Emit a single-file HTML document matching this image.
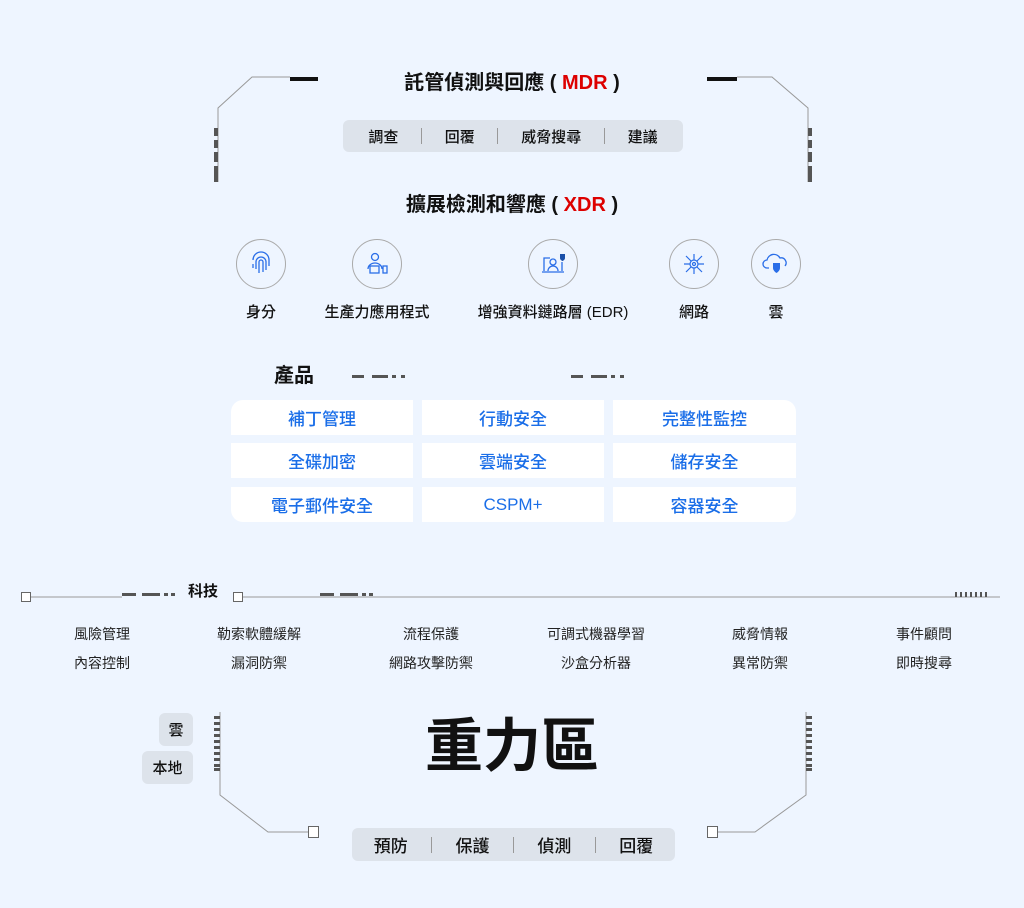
<!DOCTYPE html>
<html><head><meta charset="utf-8">
<style>
*{margin:0;padding:0;box-sizing:border-box}
body{width:1024px;height:908px;background:#eef5ff;font-family:"Liberation Sans","Noto Sans CJK TC",sans-serif;position:relative;overflow:hidden;color:#111}
.a{position:absolute}
.c{position:absolute;text-align:center;white-space:nowrap}
.bar{position:absolute;background:#dde3eb;border-radius:6px;display:flex;align-items:center;justify-content:space-around;font-size:15px;font-weight:500}
.sep{width:1px;height:16px;background:#999}
.cell{position:absolute;background:#fff;color:#1a6ee8;font-size:17px;font-weight:500;display:flex;align-items:center;justify-content:center;height:35px;width:182px}
.ic{position:absolute;width:50px;height:50px;border:1.5px solid #aaa;border-radius:50%;display:flex;align-items:center;justify-content:center}
.t{position:absolute;font-size:14px;width:140px;text-align:center;color:#222}
.lb{font-weight:500}
</style></head><body>
<svg class="a" style="left:0;top:0" width="1024" height="908">
<g stroke="#999" fill="none" stroke-width="1">
<polyline points="290,77 252,77 218,108 218,182"/>
<polyline points="737,77 772,77 808,108 808,182"/>
<polyline points="220,712 220,795 268,832 308,832"/>
<polyline points="717,832 755,832 806,795 806,712"/>
<line x1="31" y1="597" x2="122" y2="597"/>
<line x1="242" y1="597" x2="1000" y2="597"/>
</g>
<rect x="290" y="77" width="28" height="4" fill="#111"/>
<rect x="707" y="77" width="30" height="4" fill="#111"/>
<g fill="#555">
<rect x="214" y="128" width="4" height="8"/><rect x="214" y="140" width="4" height="8"/><rect x="214" y="152" width="4" height="10"/><rect x="214" y="166" width="4" height="16"/>
<rect x="808" y="128" width="4" height="8"/><rect x="808" y="140" width="4" height="8"/><rect x="808" y="152" width="4" height="10"/><rect x="808" y="166" width="4" height="16"/>
<rect x="214" y="716" width="6" height="3"/><rect x="214" y="722" width="6" height="3"/><rect x="214" y="728" width="6" height="3"/><rect x="214" y="734" width="6" height="3"/><rect x="214" y="740" width="6" height="3"/><rect x="214" y="746" width="6" height="3"/><rect x="214" y="752" width="6" height="3"/><rect x="214" y="758" width="6" height="3"/><rect x="214" y="764" width="6" height="3"/><rect x="214" y="768" width="6" height="3"/>
<rect x="806" y="716" width="6" height="3"/><rect x="806" y="722" width="6" height="3"/><rect x="806" y="728" width="6" height="3"/><rect x="806" y="734" width="6" height="3"/><rect x="806" y="740" width="6" height="3"/><rect x="806" y="746" width="6" height="3"/><rect x="806" y="752" width="6" height="3"/><rect x="806" y="758" width="6" height="3"/><rect x="806" y="764" width="6" height="3"/><rect x="806" y="768" width="6" height="3"/>
<rect x="352" y="375" width="12" height="3"/><rect x="372" y="375" width="16" height="3"/><rect x="392" y="375" width="4" height="3"/><rect x="401" y="375" width="4" height="3"/>
<rect x="571" y="375" width="12" height="3"/><rect x="591" y="375" width="16" height="3"/><rect x="611" y="375" width="4" height="3"/><rect x="620" y="375" width="4" height="3"/>
<rect x="122" y="593" width="14" height="3"/><rect x="142" y="593" width="18" height="3"/><rect x="164" y="593" width="4" height="3"/><rect x="171" y="593" width="4" height="3"/>
<rect x="320" y="593" width="14" height="3"/><rect x="340" y="593" width="18" height="3"/><rect x="362" y="593" width="4" height="3"/><rect x="369" y="593" width="4" height="3"/>
<rect x="955" y="592" width="2" height="5"/><rect x="960" y="592" width="2" height="5"/><rect x="965" y="592" width="2" height="5"/><rect x="970" y="592" width="2" height="5"/><rect x="975" y="592" width="2" height="5"/><rect x="980" y="592" width="2" height="5"/><rect x="985" y="592" width="2" height="5"/>
</g>
<g fill="#fff" stroke="#666">
<rect x="21.5" y="592.5" width="9" height="9"/><rect x="233.5" y="592.5" width="9" height="9"/>
<rect x="308.5" y="826.5" width="10" height="11"/><rect x="707.5" y="826.5" width="10" height="11"/>
</g>
</svg>

<div class="c" style="left:0;width:1024px;top:66px;font-size:20px;font-weight:bold">託管偵測與回應 ( <span style="color:#d00">MDR</span> )</div>
<div class="bar" style="left:343px;top:120px;width:340px;height:32px;padding:0 14px"><span>調查</span><i class="sep"></i><span>回覆</span><i class="sep"></i><span>威脅搜尋</span><i class="sep"></i><span>建議</span></div>
<div class="c" style="left:0;width:1024px;top:188px;font-size:20px;font-weight:bold">擴展檢測和響應 ( <span style="color:#d00">XDR</span> )</div>

<div class="ic" style="left:236px;top:239px"><svg width="26" height="26" viewBox="0 0 26 26" fill="none" stroke="#2a6ee8" stroke-width="1.3"><path d="M5 9a8 8 0 0116 0v6M8 18v-7a5 5 0 0110 0v8M11 22v-11a2 2 0 014 0v10M5 13v4"/></svg></div>
<div class="ic" style="left:352px;top:239px"><svg width="26" height="26" viewBox="0 0 26 26" fill="none" stroke="#2a6ee8" stroke-width="1.3"><circle cx="11" cy="6" r="3.5"/><path d="M4 18a7 6 0 0114 0"/><rect x="6" y="15" width="9" height="7"/><rect x="19" y="15" width="4" height="7"/></svg></div>
<div class="ic" style="left:528px;top:239px"><svg width="28" height="26" viewBox="0 0 28 26" fill="none" stroke="#2a6ee8" stroke-width="1.3"><path d="M5 20V7h6M23 11v9M3 21h22"/><circle cx="14" cy="11" r="3"/><path d="M9 20a5 5 0 0110 0"/><path d="M21 3h5v4c0 2-2.5 3-2.5 3S21 9 21 7z" fill="#1a4fa8" stroke="none"/></svg></div>
<div class="ic" style="left:669px;top:239px"><svg width="26" height="26" viewBox="0 0 26 26" fill="none" stroke="#2a6ee8" stroke-width="1.2"><circle cx="13" cy="13" r="4"/><circle cx="13" cy="13" r="1.5"/><path d="M13 9V3M13 17v6M9 13H3M17 13h6M10 10L5 5M16 16l5 5M16 10l5-5M10 16l-5 5"/></svg></div>
<div class="ic" style="left:751px;top:239px"><svg width="30" height="26" viewBox="0 0 30 26" fill="none" stroke="#2a6ee8" stroke-width="1.3"><path d="M8 17H6a4 4 0 010-8 7 7 0 0113-2 5 5 0 015 8"/><path d="M12 12h7v5c0 3-3.5 5-3.5 5S12 20 12 17z" fill="#2a6ee8" stroke="none"/></svg></div>

<div class="c lb" style="left:231px;width:60px;top:301px;font-size:15px">身分</div>
<div class="c lb" style="left:307px;width:140px;top:301px;font-size:15px">生產力應用程式</div>
<div class="c lb" style="left:453px;width:200px;top:301px;font-size:15px">增強資料鏈路層 (EDR)</div>
<div class="c lb" style="left:664px;width:60px;top:301px;font-size:15px">網路</div>
<div class="c lb" style="left:746px;width:60px;top:301px;font-size:15px">雲</div>

<div class="a" style="left:274px;top:359px;font-size:20px;font-weight:bold">產品</div>

<div class="cell" style="left:231px;top:400px;border-top-left-radius:12px">補丁管理</div>
<div class="cell" style="left:422px;top:400px">行動安全</div>
<div class="cell" style="left:613px;top:400px;width:183px;border-top-right-radius:12px">完整性監控</div>
<div class="cell" style="left:231px;top:443px">全碟加密</div>
<div class="cell" style="left:422px;top:443px">雲端安全</div>
<div class="cell" style="left:613px;top:443px;width:183px">儲存安全</div>
<div class="cell" style="left:231px;top:487px;border-bottom-left-radius:12px">電子郵件安全</div>
<div class="cell" style="left:422px;top:487px">CSPM+</div>
<div class="cell" style="left:613px;top:487px;width:183px;border-bottom-right-radius:12px">容器安全</div>

<div class="a" style="left:188px;top:580px;font-size:15px;font-weight:bold">科技</div>

<div class="t" style="left:32px;top:624px">風險管理</div><div class="t" style="left:32px;top:653px">內容控制</div>
<div class="t" style="left:189px;top:624px">勒索軟體緩解</div><div class="t" style="left:189px;top:653px">漏洞防禦</div>
<div class="t" style="left:361px;top:624px">流程保護</div><div class="t" style="left:361px;top:653px">網路攻擊防禦</div>
<div class="t" style="left:526px;top:624px">可調式機器學習</div><div class="t" style="left:526px;top:653px">沙盒分析器</div>
<div class="t" style="left:690px;top:624px">威脅情報</div><div class="t" style="left:690px;top:653px">異常防禦</div>
<div class="t" style="left:854px;top:624px">事件顧問</div><div class="t" style="left:854px;top:653px">即時搜尋</div>

<div class="bar" style="left:159px;top:713px;width:34px;height:33px;justify-content:center">雲</div>
<div class="bar" style="left:142px;top:751px;width:51px;height:33px;justify-content:center">本地</div>

<div class="c" style="left:0;width:1024px;top:712px;font-size:58px;font-weight:bold;line-height:70px">重力區</div>

<div class="bar" style="left:352px;top:828px;width:323px;height:33px;font-size:17px;padding:0 10px"><span>預防</span><i class="sep"></i><span>保護</span><i class="sep"></i><span>偵測</span><i class="sep"></i><span>回覆</span></div>
</body></html>
